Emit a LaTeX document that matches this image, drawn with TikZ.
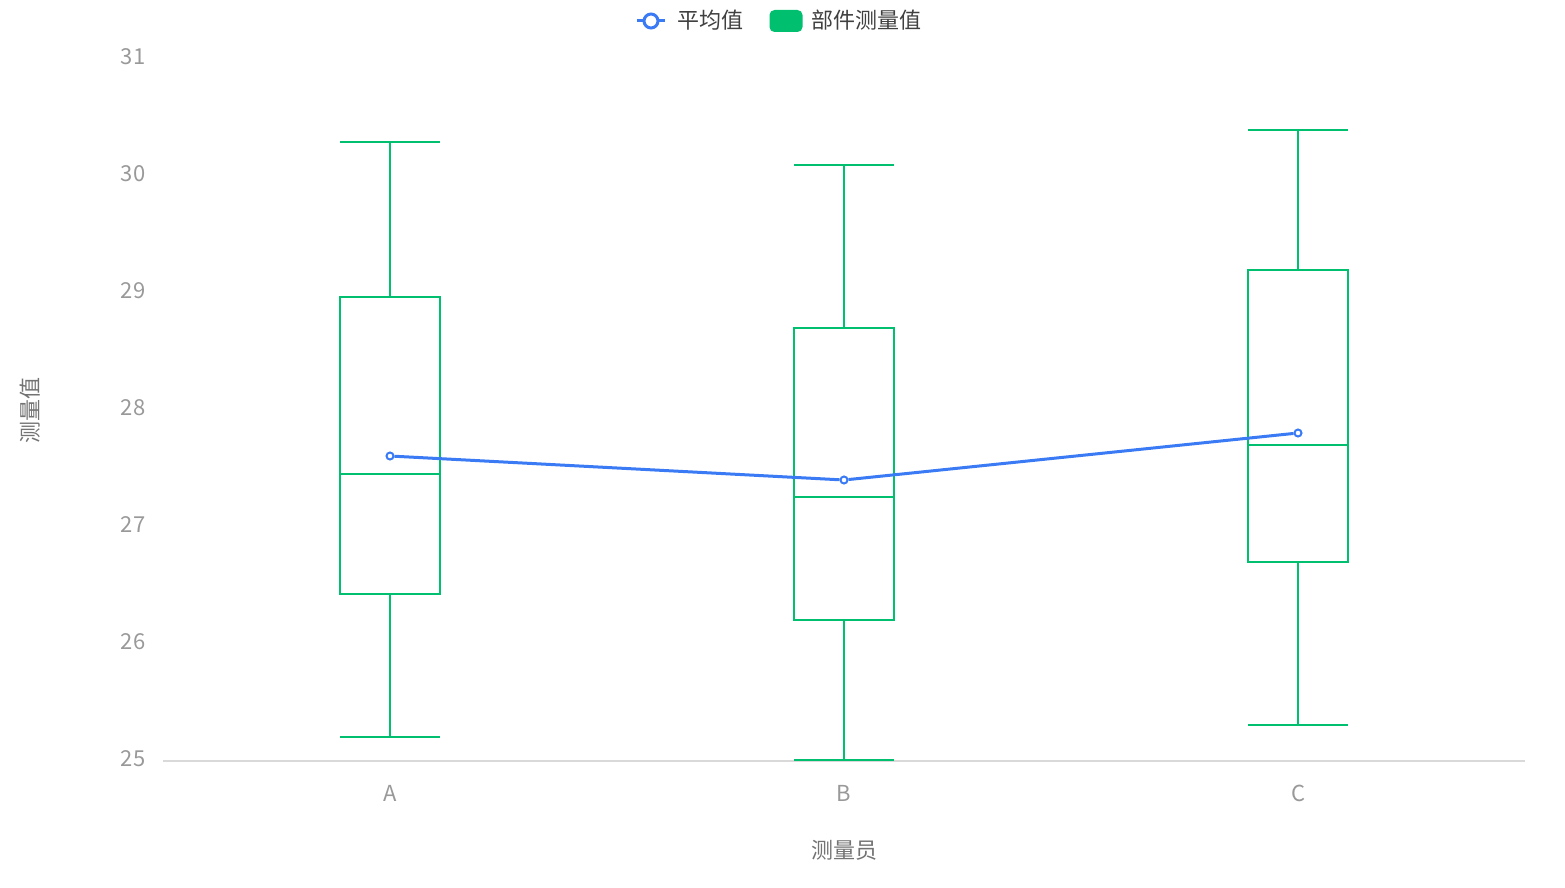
\documentclass[tikz,border=0pt]{standalone}
\usepackage{fontspec}
\setmainfont{Noto Sans CJK SC}
\begin{document}
\begin{tikzpicture}[x=1pt,y=-1pt,
  box/.style={draw=green!60!black!40!teal!0!green, draw=bx, line width=1.5pt},
  tick/.style={text=gray!80, font=\fontsize{22}{24}\selectfont},
  mean/.style={circle, draw=bl, fill=white, line width=2pt, inner sep=0pt, minimum size=7pt}]
\definecolor{bx}{HTML}{00BF6F}
\definecolor{bl}{HTML}{3A7BF5}
\useasboundingbox (0,0) rectangle (1565,888);
\draw[gray!30, line width=1.2pt] (163,761) -- (1525,761);
\foreach \v/\y in {31/57,30/174,29/291,28/408,27/525,26/642,25/759}
  \node[tick] (t\v) at (133,\y) {\v};
\foreach \n/\x in {A/390,B/844,C/1298}
  \node[tick] (x\n) at (\x,793) {\n};
\node[text=gray!90!black, font=\fontsize{22}{24}\selectfont] (xt) at (844,850) {测量员};
\node[text=gray!90!black, font=\fontsize{22}{24}\selectfont, rotate=90] (yt) at (30,410) {测量值};
% boxes
\foreach \c/\lo/\qa/\md/\qb/\hi in {390/737/594/474/297/142, 844/760/620/497/328/165, 1298/725/562/445/270/130}{
  \draw[box] (\c-50,\qa) rectangle (\c+50,\qb);
  \draw[box] (\c-50,\md) -- (\c+50,\md);
  \draw[box] (\c,\qa) -- (\c,\lo) (\c-50,\lo) -- (\c+50,\lo);
  \draw[box] (\c,\qb) -- (\c,\hi) (\c-50,\hi) -- (\c+50,\hi);
}
\node[mean] (mA) at (390,456) {};
\node[mean] (mB) at (844,480) {};
\node[mean] (mC) at (1298,433) {};
\draw[bl, line width=3pt] (mA) -- (mB) -- (mC);
% legend
\coordinate (l1) at (637,21); \coordinate (l2) at (665,21);
\draw[bl, line width=3pt] (l1) -- (l2);
\node[mean, minimum size=14pt, line width=3pt] (lm) at (651,21) {};
\node[anchor=west, text=black!75, font=\fontsize{22}{24}\selectfont] (lt1) at (674,20) {平均值};
\node[fill=bx, rounded corners=5pt, minimum width=33pt, minimum height=22pt, inner sep=0pt] (lb) at (786,21) {};
\node[anchor=west, text=black!75, font=\fontsize{22}{24}\selectfont] (lt2) at (808,20) {部件测量值};
\end{tikzpicture}
\end{document}
